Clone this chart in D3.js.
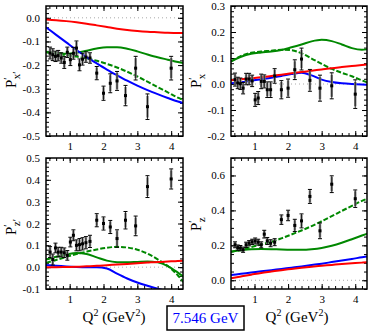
<!DOCTYPE html>
<html>
<head>
<meta charset="utf-8">
<script src="https://d3js.org/d3.v7.min.js"></script>
<style>
  body { margin: 0; background: #fff; }
  text { font-family: "Liberation Serif", "DejaVu Serif", serif; }
</style>
</head>
<body>
<script>
// ---- data: measured points (shared Q^2 values) ----
var Q2 = [0.42,0.50,0.58,0.66,0.75,0.84,0.93,1.02,1.11,1.20,1.29,1.38,1.48,1.60,
          1.80,2.00,2.20,2.40,2.65,2.95,3.30,4.00];

var pxp = [-0.149,-0.156,-0.163,-0.160,-0.170,-0.189,-0.146,-0.177,-0.150,-0.128,-0.199,-0.175,-0.166,-0.170,
           -0.234,-0.319,-0.277,-0.267,-0.329,-0.213,-0.376,-0.213];
var pxpErr = [0.025,0.025,0.022,0.022,0.022,0.025,0.022,0.025,0.025,0.03,0.025,0.025,0.022,0.022,
              0.028,0.03,0.04,0.04,0.043,0.05,0.054,0.05];

var px = [0.017,0.004,0.001,-0.016,0.019,0.019,0.012,-0.061,-0.054,0.010,0.010,-0.022,-0.022,0.031,
          -0.022,-0.016,0.055,0.096,0.014,-0.016,-0.007,-0.039];
var pxErr = [0.025,0.022,0.022,0.022,0.022,0.022,0.022,0.025,0.025,0.028,0.025,0.03,0.03,0.028,
             0.035,0.035,0.038,0.042,0.042,0.05,0.05,0.055];

var pzp = [0.069,0.035,0.088,0.069,0.069,0.066,0.054,0.115,0.146,0.100,0.103,0.107,0.112,0.118,
           0.215,0.200,0.184,0.131,0.215,0.189,0.369,0.404];
var pzpErr = [0.025,0.025,0.022,0.022,0.022,0.022,0.022,0.022,0.025,0.025,0.028,0.028,0.028,0.028,
              0.03,0.03,0.03,0.04,0.04,0.045,0.05,0.046];

var pz = [0.203,0.187,0.184,0.175,0.203,0.212,0.220,0.225,0.218,0.203,0.264,0.225,0.212,0.218,
          0.347,0.371,0.314,0.340,0.480,0.283,0.550,0.467];
var pzErr = [0.017,0.015,0.015,0.015,0.015,0.015,0.015,0.017,0.017,0.017,0.022,0.02,0.02,0.02,
             0.027,0.03,0.035,0.04,0.04,0.045,0.048,0.05];

// ---- data: model curves ----
var thQ = [0.3,0.6,0.9,1.2,1.5,1.8,2.1,2.4,2.7,3.0,3.3,3.6,3.9,4.2,4.4];

var pxpRed   = [-0.007,-0.010,-0.014,-0.019,-0.025,-0.032,-0.039,-0.046,-0.052,-0.056,-0.059,-0.061,-0.063,-0.064,-0.064];
var pxpBlue  = [-0.040,-0.072,-0.104,-0.136,-0.166,-0.193,-0.219,-0.243,-0.266,-0.287,-0.306,-0.323,-0.339,-0.354,-0.362];
var pxpGreen = [-0.145,-0.148,-0.152,-0.148,-0.139,-0.130,-0.125,-0.125,-0.131,-0.142,-0.155,-0.167,-0.177,-0.187,-0.193];
var pxpGreenD= [-0.146,-0.152,-0.158,-0.164,-0.172,-0.182,-0.195,-0.210,-0.228,-0.248,-0.270,-0.293,-0.315,-0.338,-0.350];

var pxRed    = [0.014,0.018,0.022,0.026,0.031,0.036,0.041,0.046,0.051,0.056,0.061,0.065,0.069,0.073,0.076];
var pxBlue   = [0.003,0.007,0.012,0.018,0.024,0.031,0.038,0.043,0.033,0.017,0.008,0.003,0.000,-0.002,-0.003];
var pxGreen  = [0.087,0.105,0.116,0.121,0.125,0.131,0.141,0.152,0.164,0.170,0.165,0.152,0.138,0.132,0.135];
var pxGreenD = [0.087,0.108,0.120,0.125,0.128,0.132,0.130,0.118,0.098,0.077,0.058,0.043,0.030,0.014,0.004];

var pzpRed   = [0.000,0.000,0.001,0.002,0.004,0.006,0.009,0.012,0.015,0.018,0.021,0.024,0.026,0.028,0.030];
var pzpBlue  = [0.010,0.006,0.003,0.001,0.000,0.000,-0.006,-0.030,-0.052,-0.070,-0.085,-0.099,-0.110,-0.120,-0.126];
var pzpGreen = [0.035,0.048,0.058,0.065,0.060,0.045,0.030,0.023,0.022,0.024,0.026,0.022,0.005,-0.025,-0.048];
var pzpGreenD= [0.020,0.033,0.047,0.060,0.071,0.081,0.089,0.093,0.090,0.080,0.062,0.036,0.005,-0.038,-0.075];

var pzRed    = [0.012,0.022,0.032,0.042,0.050,0.058,0.065,0.072,0.078,0.083,0.088,0.093,0.097,0.101,0.104];
var pzBlue   = [0.030,0.037,0.044,0.051,0.058,0.065,0.072,0.079,0.087,0.095,0.104,0.113,0.122,0.132,0.138];
var pzGreen  = [0.163,0.172,0.178,0.179,0.178,0.176,0.175,0.175,0.178,0.185,0.198,0.215,0.235,0.256,0.270];
var pzGreenD = [0.163,0.175,0.190,0.205,0.220,0.240,0.262,0.285,0.310,0.338,0.367,0.397,0.426,0.455,0.470];

// ---- tick values ----
var xTicks = [1,2,3,4];
var xMinor = d3.range(0.4, 4.35, 0.2);
var yTicksPxp = [-0.5,-0.4,-0.3,-0.2,-0.1,0.0];
var yTicksPx  = [-0.2,-0.1,0.0,0.1,0.2,0.3];
var yTicksPzp = [-0.1,0.0,0.1,0.2,0.3,0.4,0.5];
var yTicksPz  = [0.0,0.2,0.4,0.6];

var W = 374, H = 336;
var svg = d3.select("body").append("svg").attr("width", W).attr("height", H);

var panels = [
  {id:"a", x0:46,  x1:183, y0:6,   y1:136, dom:[-0.5,0.05], ticks:yTicksPxp, minor:0.02,
   pts:pxp, err:pxpErr, red:pxpRed, blue:pxpBlue, green:pxpGreen, greenD:pxpGreenD,
   title:["x","′"], tx:16, ty:88, xlab:true},
  {id:"b", x0:231, x1:367, y0:6,   y1:136, dom:[-0.2,0.3], ticks:yTicksPx, minor:0.02,
   pts:px, err:pxErr, red:pxRed, blue:pxBlue, green:pxGreen, greenD:pxGreenD,
   title:["x",""], tx:201, ty:88, xlab:true},
  {id:"c", x0:46,  x1:183, y0:158, y1:289, dom:[-0.1,0.5], ticks:yTicksPzp, minor:0.02,
   pts:pzp, err:pzpErr, red:pzpRed, blue:pzpBlue, green:pzpGreen, greenD:pzpGreenD,
   title:["z","′"], tx:16, ty:235, xlab:true},
  {id:"d", x0:231, x1:367, y0:158, y1:289, dom:[-0.05,0.7], ticks:yTicksPz, minor:0.05,
   pts:pz, err:pzErr, red:pzRed, blue:pzBlue, green:pzGreen, greenD:pzGreenD,
   title:["z",""], tx:201, ty:231, xlab:true}
];

panels.forEach(function(p) {
  var x = d3.scaleLinear().domain([0.3, 4.35]).range([p.x0, p.x1]);
  var y = d3.scaleLinear().domain(p.dom).range([p.y1, p.y0]);
  var yMinor = d3.range(Math.ceil(p.dom[0] / p.minor - 1e-6) * p.minor, p.dom[1] + 1e-6, p.minor)
    .map(function(v) { return +v.toFixed(3); });

  var g = svg.append("g");

  svg.append("clipPath").attr("id", "clip-" + p.id).append("rect")
    .attr("x", p.x0).attr("y", p.y0).attr("width", p.x1 - p.x0).attr("height", p.y1 - p.y0);

  // zero line
  g.append("line")
    .attr("x1", p.x0).attr("x2", p.x1).attr("y1", y(0)).attr("y2", y(0))
    .attr("stroke", "#aaa").attr("stroke-width", 1).attr("stroke-dasharray", "1,3");

  // axes: ticks pointing inward on all four sides
  function ax(axisFn, scale, vals, size, labels, tr) {
    var a = axisFn(scale).tickValues(vals).tickSizeInner(size).tickSizeOuter(0).tickPadding(6);
    if (labels) a.tickFormat(labels); else a.tickFormat("");
    var s = g.append("g").attr("transform", tr).call(a);
    s.select(".domain").remove();
    s.selectAll("line").attr("stroke", "#000").attr("stroke-width", 1);
    s.selectAll("text").attr("font-family", "Liberation Serif").attr("font-size", 11).attr("fill", "#000");
    return s;
  }
  var fmt = function(d) { return d.toFixed(1); };
  ax(d3.axisBottom, x, xTicks, -5, function(d) { return d; }, "translate(0," + p.y1 + ")");
  ax(d3.axisBottom, x, xMinor, -3, null, "translate(0," + p.y1 + ")");
  ax(d3.axisTop, x, xTicks, -5, null, "translate(0," + p.y0 + ")");
  ax(d3.axisTop, x, xMinor, -3, null, "translate(0," + p.y0 + ")");
  ax(d3.axisLeft, y, p.ticks, -5, fmt, "translate(" + p.x0 + ",0)");
  ax(d3.axisLeft, y, yMinor, -3, null, "translate(" + p.x0 + ",0)");
  ax(d3.axisRight, y, p.ticks, -5, null, "translate(" + p.x1 + ",0)");
  ax(d3.axisRight, y, yMinor, -3, null, "translate(" + p.x1 + ",0)");

  // curves
  var cg = g.append("g").attr("clip-path", "url(#clip-" + p.id + ")");
  var line = d3.line().x(function(d) { return x(d[0]); }).y(function(d) { return y(d[1]); })
    .curve(d3.curveMonotoneX);
  function curve(vals, color, dash) {
    cg.append("path").datum(d3.zip(thQ, vals)).attr("d", line)
      .attr("fill", "none").attr("stroke", color).attr("stroke-width", 2)
      .attr("stroke-dasharray", dash || null);
  }
  curve(p.greenD, "#008800", "5,2");
  curve(p.green, "#008800");
  curve(p.blue, "#0000ff");
  curve(p.red, "#ff0000");

  // data points with error bars
  var pts = g.append("g").selectAll("g").data(d3.zip(Q2, p.pts, p.err)).join("g");
  pts.append("line")
    .attr("x1", function(d) { return x(d[0]); }).attr("x2", function(d) { return x(d[0]); })
    .attr("y1", function(d) { return y(d[1] - d[2] * 0.85); }).attr("y2", function(d) { return y(d[1] + d[2] * 0.85); })
    .attr("stroke", "#888").attr("stroke-width", 2.5);
  pts.append("line")
    .attr("x1", function(d) { return x(d[0]); }).attr("x2", function(d) { return x(d[0]); })
    .attr("y1", function(d) { return y(d[1] - d[2]); }).attr("y2", function(d) { return y(d[1] + d[2]); })
    .attr("stroke", "#000").attr("stroke-width", 0.8);
  [-1, 1].forEach(function(sgn) {
    pts.append("line")
      .attr("x1", function(d) { return x(d[0]) - 2; }).attr("x2", function(d) { return x(d[0]) + 2; })
      .attr("y1", function(d) { return y(d[1] + sgn * d[2]); }).attr("y2", function(d) { return y(d[1] + sgn * d[2]); })
      .attr("stroke", "#000").attr("stroke-width", 1);
  });
  pts.append("rect")
    .attr("x", function(d) { return x(d[0]) - 1.5; }).attr("y", function(d) { return y(d[1]) - 1.5; })
    .attr("width", 3).attr("height", 3).attr("fill", "#000");

  // frame
  g.append("rect").attr("x", p.x0).attr("y", p.y0)
    .attr("width", p.x1 - p.x0).attr("height", p.y1 - p.y0)
    .attr("fill", "none").attr("stroke", "#000").attr("stroke-width", 1.5);

  // y title  P'_x' etc.
  var t = svg.append("text")
    .attr("transform", "translate(" + p.tx + "," + p.ty + ") rotate(-90)")
    .attr("font-size", 15).attr("fill", "#000");
  t.append("tspan").text("P");
  t.append("tspan").attr("font-size", 11).attr("dy", -5).text("′");
  t.append("tspan").attr("font-size", 11).attr("dx", -2).attr("dy", 9).text(p.title[0] + p.title[1]);
});

// x titles
[114, 297].forEach(function(cx) {
  var t = svg.append("text").attr("x", cx).attr("y", 322).attr("text-anchor", "middle")
    .attr("font-size", 15).attr("fill", "#000");
  t.append("tspan").text("Q");
  t.append("tspan").attr("font-size", 10).attr("dy", -6).text("2");
  t.append("tspan").attr("dy", 6).text(" (GeV");
  t.append("tspan").attr("font-size", 10).attr("dy", -6).text("2");
  t.append("tspan").attr("dy", 6).text(")");
});

// legend box
svg.append("rect").attr("x", 167).attr("y", 306).attr("width", 77).attr("height", 24)
  .attr("fill", "#fff").attr("stroke", "#000").attr("stroke-width", 1.5);
svg.append("text").attr("x", 205.5).attr("y", 323).attr("text-anchor", "middle")
  .attr("font-size", 15).attr("fill", "#0000ff").text("7.546 GeV");
</script>
</body>
</html>
